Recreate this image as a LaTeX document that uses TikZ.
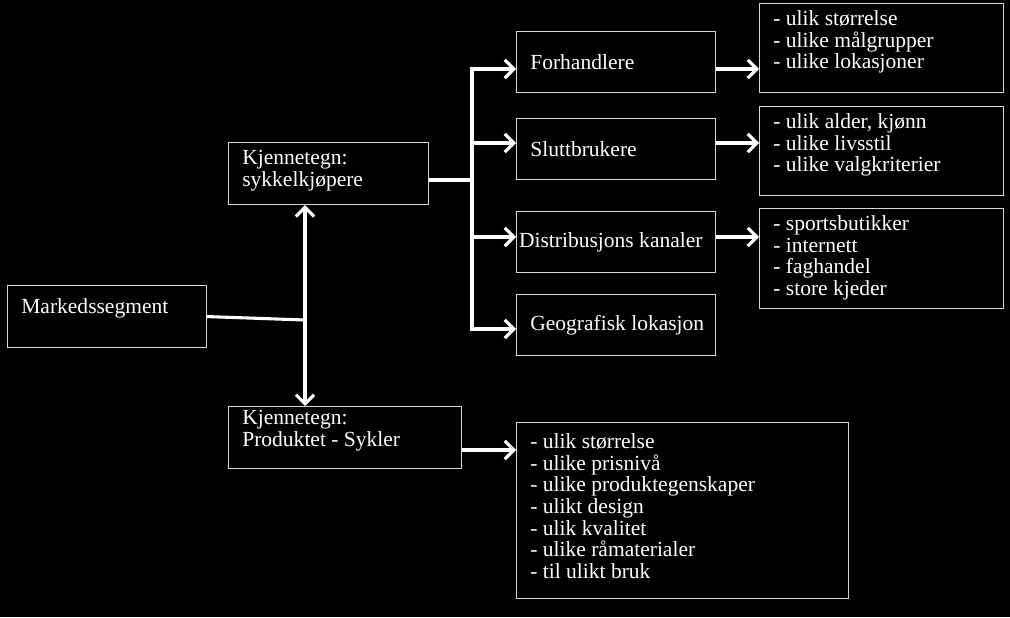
\documentclass[tikz,border=0pt]{standalone}
\usepackage{fontspec}
\setmainfont{Liberation Serif}
\usetikzlibrary{arrows.meta}
\definecolor{boxline}{RGB}{215,215,215}
\begin{document}
\begin{tikzpicture}[x=0.025cm, y=-0.025cm]
	\tikzstyle{place}=[draw=boxline, line width=0.8pt, fill=black, anchor=north west, inner sep=0pt]
	\tikzstyle{txt}=[text=white, anchor=north west, inner sep=0pt, align=left, font=\fontsize{15.3}{15.4}\selectfont]
	\tikzstyle{conn}=[draw=white, line width=2.2pt]
	\tikzstyle{arr}=[conn, -{Straight Barb[length=6.5pt,width=13pt]}]
	\fill[black] (0,0) rectangle (1010,617);
	\useasboundingbox (0,0) rectangle (1010,617);
	% Left
	\node at (7,285) [place, minimum width=4.975cm, minimum height=1.55cm] (mark) {};
	\node [txt] (mark_t) at ([xshift=10pt, yshift=-9.4pt]mark.north west) {Markedssegment};
	% Kjennetegn
	\node at (228,142) [place, minimum width=5cm, minimum height=1.55cm] (kjop) {};
	\node [txt] (kjop_t) at ([xshift=10pt, yshift=-5.8pt]kjop.north west) {Kjennetegn:\\sykkelkjøpere};
	\node at (228,406) [place, minimum width=5.825cm, minimum height=1.55cm] (prod) {};
	\node [txt] (prod_t) at ([xshift=10pt, yshift=-3.1pt]prod.north west) {Kjennetegn:\\Produktet - Sykler};
	% Middle
	\foreach \n/\y/\dx/\t in {forh/31/10/Forhandlere, slutt/118/10/Sluttbrukere, dist/211/2/Distribusjons kanaler, geo/294/10/Geografisk lokasjon}{
		\node at (516,\y) [place, minimum width=4.975cm, minimum height=1.525cm] (\n) {};
		\node [txt, anchor=west] (\n_t) at ([xshift=\dx pt]\n.west) {\t};
	}
	% Right
	\foreach \n/\y/\h/\t in {lista/3/2.225/{- ulik størrelse\\- ulike målgrupper\\- ulike lokasjoner},
			listb/106/2.225/{- ulik alder, kjønn\\- ulike livsstil\\- ulike valgkriterier},
			listc/208/2.5/{- sportsbutikker\\- internett\\- faghandel\\- store kjeder}}{
		\node at (759,\y) [place, minimum width=6.1cm, minimum height=\h cm] (\n) {};
		\node [txt] (\n_t) at ([xshift=10pt, yshift=-5.2pt]\n.north west) {\t};
	}
	% Bottom
	\node at (516,422) [place, minimum width=8.3cm, minimum height=4.4cm] (listd) {};
	\node [txt] (listd_t) at ([xshift=10pt, yshift=-8pt]listd.north west) {- ulik størrelse\\- ulike prisnivå\\- ulike produktegenskaper\\- ulikt design\\- ulik kvalitet\\- ulike råmaterialer\\- til ulikt bruk};
	%---------------------%
	% Markedssegment -> Kjennetegn
	\coordinate (j1) at (305,320);
	\draw [conn] (mark.east) -- (j1);
	\draw [conn, {Straight Barb[length=6.5pt,width=13pt]}-{Straight Barb[length=6.5pt,width=13pt]}] (kjop.south -| j1) -- (prod.north -| j1);
	% Kjennetegn -> Middle
	\coordinate (t0) at (472,180);
	\draw [conn] (t0 -| kjop.east) -- (t0);
	\foreach \n/\y in {forh/69, slutt/143, dist/237, geo/329}{
		\coordinate (b_\n) at (472,\y);
		\draw [arr] (b_\n) -- (b_\n -| \n.west);
	}
	\draw [conn, line cap=rect] (b_forh) -- (b_geo);
	% Middle -> Right
	\foreach \a/\b/\y in {forh/lista/69, slutt/listb/143, dist/listc/237}{
		\coordinate (r_\a) at (600,\y);
		\draw [arr] (r_\a -| \a.east) -- (r_\a -| \b.west);
	}
	% Produktet -> Bottom
	\coordinate (p1) at (490,450);
	\draw [arr] (p1 -| prod.east) -- (p1 -| listd.west);
\end{tikzpicture}
\end{document}
